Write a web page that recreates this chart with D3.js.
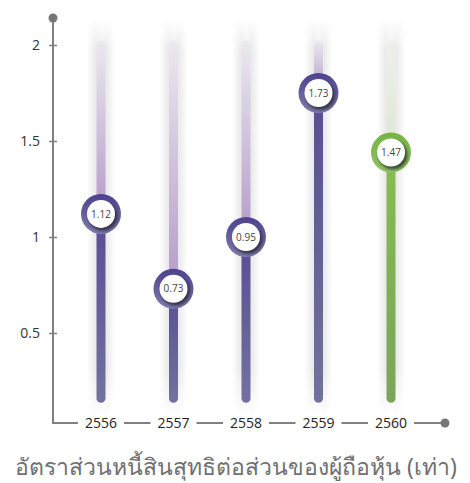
<!DOCTYPE html>
<html>
<head>
<meta charset="utf-8">
<script src="https://cdn.jsdelivr.net/npm/d3@7"></script>
<style>
  html, body { margin: 0; padding: 0; background: #fff; }
  svg { display: block; }
</style>
</head>
<body>
<svg id="chart" width="470" height="483"></svg>
<script>
// chart data
const years = ["2556", "2557", "2558", "2559", "2560"];
const levels = [1.12, 0.73, 1.0, 1.75, 1.44];        // where each marker sits
const labels = ["1.12", "0.73", "0.95", "1.73", "1.47"]; // text printed in the marker
const yTicks = [0.5, 1, 1.5, 2];
const title = "อัตราส่วนหนี้สินสุทธิต่อส่วนของผู้ถือหุ้น (เท่า)";

const svg = d3.select("#chart");
const width = +svg.attr("width");

const axisX = 53;   // vertical axis position
const axisY = 423;  // horizontal axis position
const barBase = 0.16; // bars start here
const barTop = 2;

const x = d3.scalePoint().domain(years).range([101, 391]);
const y = d3.scaleLinear().domain([0, 2]).range([429, 45]);

const isLast = (d, i) => i === years.length - 1;

const defs = svg.append("defs");

// helper for vertical gradients
function vGrad(id, top, bottom) {
  const g = defs.append("linearGradient").attr("id", id)
    .attr("x1", 0).attr("y1", 0).attr("x2", 0).attr("y2", 1);
  g.append("stop").attr("offset", "0%").attr("stop-color", top);
  g.append("stop").attr("offset", "100%").attr("stop-color", bottom);
}
vGrad("upPurple", "#ebe9ef", "#b59bc9");
vGrad("upGreen", "#eeefea", "#dfe7d4");
vGrad("lowPurple", "#594d94", "#72729f");
vGrad("lowGreen", "#86bd4f", "#79a55a");
vGrad("ringPurple", "#4b418e", "#807daa");
vGrad("ringGreen", "#74b341", "#93c266");

// soft gray glow behind each bar
const glowH = defs.append("linearGradient").attr("id", "glowH")
  .attr("x1", 0).attr("y1", 0).attr("x2", 1).attr("y2", 0);
[["0%", "#ffffff"], ["30%", "#eaeaea"], ["50%", "#f2f2f2"], ["70%", "#eaeaea"], ["100%", "#ffffff"]]
  .forEach(s => glowH.append("stop").attr("offset", s[0]).attr("stop-color", s[1]));

const fadeV = defs.append("linearGradient").attr("id", "fadeV")
  .attr("x1", 0).attr("y1", 0).attr("x2", 0).attr("y2", 1);
[["0%", 0], ["8%", 1], ["88%", 1], ["100%", 0]]
  .forEach(s => fadeV.append("stop").attr("offset", s[0]).attr("stop-color", "#fff").attr("stop-opacity", s[1]));
const mask = defs.append("mask").attr("id", "glowMask").attr("maskContentUnits", "objectBoundingBox");
mask.append("rect").attr("width", 1).attr("height", 1).attr("fill", "url(#fadeV)");

defs.append("filter").attr("id", "blur")
  .attr("x", "-30%").attr("y", "-30%").attr("width", "160%").attr("height", "160%")
  .append("feGaussianBlur").attr("stdDeviation", 1.6);

const glowW = 28;
svg.append("g").selectAll("rect").data(years).join("rect")
  .attr("x", d => x(d) - glowW / 2)
  .attr("y", 18)
  .attr("width", glowW)
  .attr("height", 400)
  .attr("fill", "url(#glowH)")
  .attr("mask", "url(#glowMask)");

// bars: faded part above the marker, solid part below
// (rounded rects, since gradients on a zero-width line box don't paint)
const barW = 9;
const bars = svg.append("g");
bars.selectAll("rect.up").data(levels).join("rect").attr("class", "up")
  .attr("x", (d, i) => x(years[i]) - barW / 2)
  .attr("y", y(barTop) - barW / 2)
  .attr("width", barW)
  .attr("height", d => y(d) - y(barTop) + barW / 2)
  .attr("rx", barW / 2)
  .attr("fill", (d, i) => isLast(d, i) ? "url(#upGreen)" : "url(#upPurple)");
bars.selectAll("rect.low").data(levels).join("rect").attr("class", "low")
  .attr("x", (d, i) => x(years[i]) - barW / 2)
  .attr("y", d => y(d))
  .attr("width", barW)
  .attr("height", d => y(barBase) - y(d) + barW / 2)
  .attr("rx", barW / 2)
  .attr("fill", (d, i) => isLast(d, i) ? "url(#lowGreen)" : "url(#lowPurple)");

// axes
const axisColor = "#808080";
svg.append("line")
  .attr("x1", axisX).attr("x2", axisX).attr("y1", 18).attr("y2", axisY)
  .attr("stroke", axisColor).attr("stroke-width", 2);
svg.append("line")
  .attr("x1", axisX - 1).attr("x2", 445).attr("y1", axisY).attr("y2", axisY)
  .attr("stroke", axisColor).attr("stroke-width", 2);
svg.append("circle").attr("cx", axisX).attr("cy", 18).attr("r", 4.5).attr("fill", "#777");
svg.append("circle").attr("cx", 445).attr("cy", axisY).attr("r", 4.5).attr("fill", "#777");

const yAxis = svg.append("g").attr("transform", `translate(${axisX},0)`)
  .call(d3.axisLeft(y).tickValues(yTicks).tickSize(4).tickPadding(9).tickFormat(d3.format("")));
yAxis.select(".domain").remove();
yAxis.selectAll(".tick line").attr("x2", 4).attr("x1", -4).attr("stroke", axisColor).attr("stroke-width", 1.5);
yAxis.selectAll(".tick text")
  .attr("fill", "#333").attr("font-size", 14)
  .attr("font-family", "'Open Sans', 'Noto Sans', sans-serif");

const xLab = svg.append("g").selectAll("g").data(years).join("g")
  .attr("transform", d => `translate(${x(d)},${axisY})`);
xLab.append("rect")
  .attr("x", -23).attr("y", -8).attr("width", 46).attr("height", 16).attr("fill", "#fff");
xLab.append("text")
  .attr("text-anchor", "middle").attr("dy", "0.36em")
  .attr("fill", "#222").attr("font-size", 14)
  .attr("font-family", "'Open Sans', 'Noto Sans', sans-serif")
  .text(d => d);

// markers: gradient ring, shadow on its lower right, white face
const ringR = 17, innerR = 14;
const marks = svg.append("g").selectAll("g").data(levels).join("g")
  .attr("transform", (d, i) => `translate(${x(years[i])},${y(d)})`);
marks.each(function (d, i) {
  defs.append("clipPath").attr("id", "clip" + i)
    .append("circle").attr("r", ringR + 3);
});
marks.append("circle")
  .attr("r", ringR + 3)
  .attr("fill", (d, i) => isLast(d, i) ? "url(#ringGreen)" : "url(#ringPurple)");
marks.append("g").attr("clip-path", (d, i) => `url(#clip${i})`)
  .append("circle")
  .attr("cx", 2).attr("cy", 2.5).attr("r", innerR + 0.5)
  .attr("fill", "#1d1b2a").attr("opacity", 0.7)
  .attr("filter", "url(#blur)");
marks.append("circle").attr("r", innerR).attr("fill", "#fff");
marks.append("text")
  .attr("text-anchor", "middle").attr("dy", "0.36em")
  .attr("fill", "#444").attr("font-size", 10)
  .attr("font-family", "'Open Sans', 'Noto Sans', sans-serif")
  .text((d, i) => labels[i]);

// caption
svg.append("text")
  .attr("x", width / 2 + 1).attr("y", 475)
  .attr("text-anchor", "middle")
  .attr("fill", "#707070").attr("font-size", 23)
  .attr("font-family", "'Noto Sans', 'DejaVu Sans', sans-serif")
  .text(title);
</script>
</body>
</html>
